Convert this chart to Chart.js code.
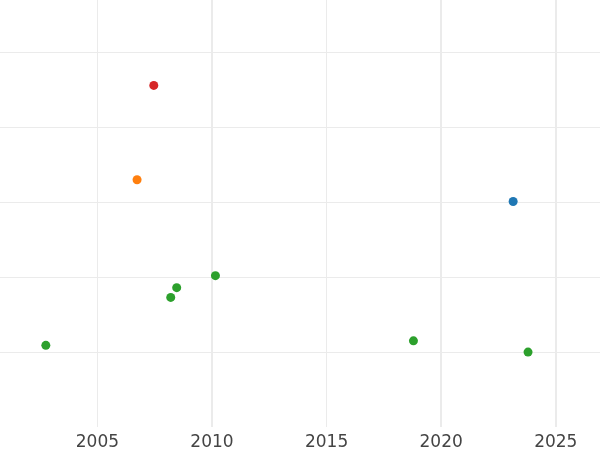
<!DOCTYPE html>
<html>
<head>
<meta charset="utf-8">
<script src="https://cdn.jsdelivr.net/npm/chart.js@4/dist/chart.umd.min.js"></script>
<style>
  html, body { margin: 0; padding: 0; background: #fff; }
  #wrap { width: 600px; height: 450px; }
</style>
</head>
<body>
<div id="wrap"><canvas id="chart"></canvas></div>
<script>
// x ticks shown under the plot
const tickYears = [2005, 2010, 2015, 2020, 2025];
// y gridlines (no labels in the picture)
const yGrid = [1, 2, 3, 4, 5];

// one series per colour
const blueX = [2023.14];
const blueY = [3.01];
const orangeX = [2006.73];
const orangeY = [3.3];
const redX = [2007.46];
const redY = [4.56];
const greenX = [2002.75, 2008.20, 2008.46, 2010.15, 2018.79, 2023.79];
const greenY = [1.09, 1.73, 1.86, 2.02, 1.15, 1.0];

function pts(xs, ys) {
  return xs.map((x, i) => ({ x: x, y: ys[i] }));
}

function series(xs, ys, color) {
  return {
    data: pts(xs, ys),
    backgroundColor: color,
    borderWidth: 0,
    pointRadius: 4.5,
    pointHoverRadius: 4.5
  };
}

const ctx = document.getElementById('chart').getContext('2d');
new Chart(ctx, {
  type: 'scatter',
  data: {
    datasets: [
      series(blueX, blueY, '#1f77b4'),
      series(orangeX, orangeY, '#ff7f0e'),
      series(greenX, greenY, '#2ca02c'),
      series(redX, redY, '#d62728')
    ]
  },
  options: {
    responsive: true,
    maintainAspectRatio: false,
    animation: false,
    layout: { padding: 0, autoPadding: false },
    plugins: {
      legend: { display: false },
      tooltip: { enabled: false }
    },
    scales: {
      x: {
        type: 'linear',
        min: 2000.75,
        max: 2026.93,
        afterBuildTicks: s => { s.ticks = tickYears.map(v => ({ value: v })); },
        afterFit: s => { s.height = 23; },
        border: { display: false },
        grid: {
          color: '#ebebeb',
          // 2010/2020/2025 look doubled in the picture
          lineWidth: c => (c.tick && (c.tick.value === 2005 || c.tick.value === 2015)) ? 1 : 2,
          drawTicks: false
        },
        ticks: {
          padding: 5,
          color: '#444',
          font: { family: 'DejaVu Sans', size: 17 },
          callback: v => String(v)
        }
      },
      y: {
        type: 'linear',
        min: 0,
        max: 5.7,
        afterBuildTicks: s => { s.ticks = yGrid.map(v => ({ value: v })); },
        afterFit: s => { s.width = 0; },
        border: { display: false },
        grid: { color: '#ebebeb', lineWidth: 1, drawTicks: false },
        ticks: { display: false }
      }
    }
  }
});
</script>
</body>
</html>
